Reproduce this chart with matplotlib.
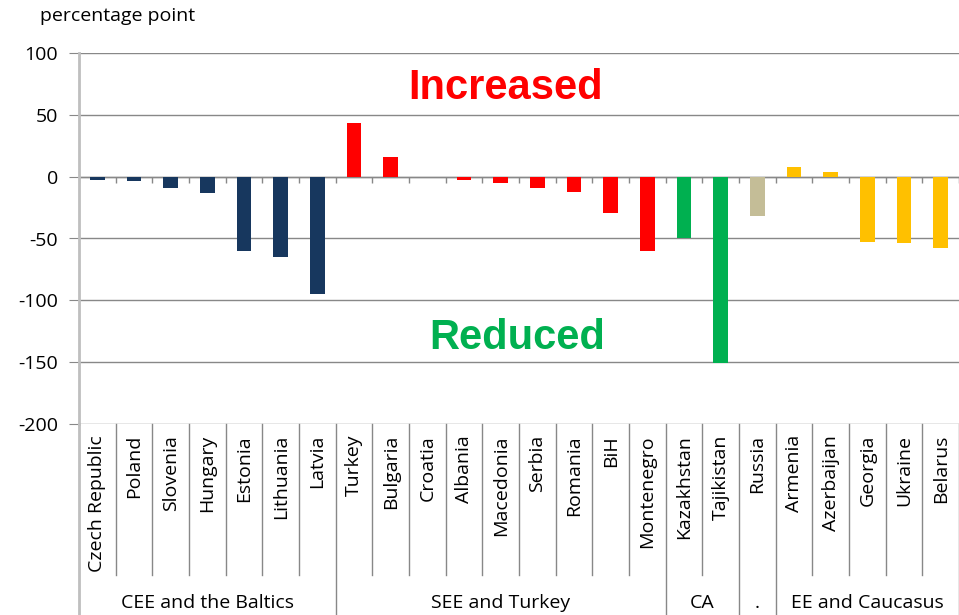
import matplotlib
matplotlib.use("Agg")
import matplotlib.pyplot as plt

# countries and change in percentage points
countries = ["Czech Republic", "Poland", "Slovenia", "Hungary", "Estonia", "Lithuania", "Latvia",
             "Turkey", "Bulgaria", "Croatia", "Albania", "Macedonia", "Serbia", "Romania", "BiH",
             "Montenegro", "Kazakhstan", "Tajikistan", "Russia",
             "Armenia", "Azerbaijan", "Georgia", "Ukraine", "Belarus"]
values = [-3, -3.5, -9, -13, -60, -65, -95,
          43, 16, 0, -3, -5, -9, -12, -29,
          -60, -50, -151, -32,
          8, 3.5, -53, -54, -58]

group_names = ["CEE and the Baltics", "SEE and Turkey", "CA", ".", "EE and Caucasus"]
group_sizes = [7, 9, 2, 1, 5]
group_colors = ["#17375E", "#FF0000", "#00B050", "#C4BD97", "#FFC000"]

plt.rcParams["font.family"] = ["Open Sans", "DejaVu Sans"]
plt.rcParams["axes.unicode_minus"] = False

fig = plt.figure(figsize=(9.59, 6.15), dpi=100)
W, H = 959, 615
ax = fig.add_axes([79 / W, 1 - 424 / H, (W - 79) / W, (424 - 53) / H])

colors = []
for c, n in zip(group_colors, group_sizes):
    colors += [c] * n

x = list(range(len(countries)))
ax.bar(x, values, width=0.4, color=colors, zorder=3)

ax.set_xlim(-0.5, len(countries) - 0.5)
ax.set_ylim(-200, 100)
ax.set_yticks(range(-200, 101, 50))
ax.tick_params(axis="y", labelsize=14, length=7, color="#888888", pad=8)
ax.set_xticks([])
ax.grid(axis="y", color="#888888", linewidth=1, zorder=0)
for s in ["top", "right", "bottom"]:
    ax.spines[s].set_visible(False)
ax.spines["left"].set_color("#BFBFBF")
ax.spines["left"].set_linewidth(2)

# zero line with category ticks
ax.axhline(0, color="#888888", linewidth=1, zorder=2)
bounds = [i - 0.5 for i in range(len(countries) + 1)]
ax.vlines(bounds, -5, 0, color="#888888", linewidth=1, zorder=2)

# category table below the axes
tr = ax.get_xaxis_transform()
ax_h = 424 - 53
y_sub = -(575 - 424) / ax_h
y_bot = -(615 - 424) / ax_h
for i, name in enumerate(countries):
    ax.text(i, -(435 - 424) / ax_h, name, transform=tr, rotation=90, ha="center", va="top",
            fontsize=14)
ax.plot([-0.5, -0.5], [0, y_bot], transform=tr, color="#BFBFBF", lw=2, clip_on=False)
start = 0
for name, n in zip(group_names, group_sizes):
    end = start + n
    for b in range(start + 1, end):
        ax.plot([b - 0.5, b - 0.5], [0, y_sub], transform=tr, color="#888888", lw=1, clip_on=False)
    ax.plot([end - 0.5, end - 0.5], [0, y_bot], transform=tr, color="#888888", lw=1, clip_on=False)
    ax.text((start + end - 1) / 2, -(603 - 424) / ax_h, name, transform=tr, ha="center",
            va="center", fontsize=14)
    start = end

fig.text(40 / W, 1 - 16 / H, "percentage point", ha="left", va="center", fontsize=14)
fig.text(506 / W, 1 - 88 / H, "Increased", ha="center", va="center", fontsize=30,
         fontweight="bold", color="#FF0000", family="Liberation Sans")
fig.text(517 / W, 1 - 338 / H, "Reduced", ha="center", va="center", fontsize=30,
         fontweight="bold", color="#00B050", family="Liberation Sans")

fig.savefig("out.png", dpi=100)
